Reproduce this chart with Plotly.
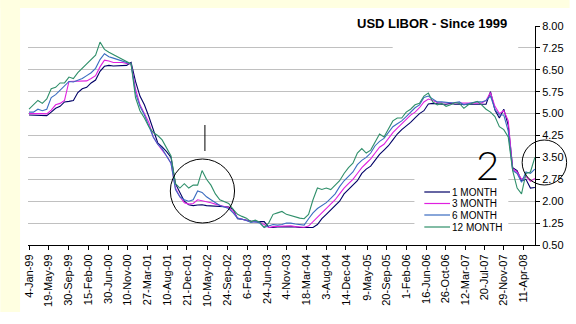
import pandas as pd
import plotly.graph_objects as go

# ---- data -------------------------------------------------------------
START, END = "1999-01-04", "2008-06-30"

SERIES_NAMES = ["1 MONTH", "3 MONTH", "6 MONTH", "12 MONTH"]

ONE_M = [
    4.95, 4.94, 4.95, 4.93, 4.93, 5.05, 5.18, 5.25, 5.40, 5.42, 5.45, 5.72,
    5.85, 5.90, 6.05, 6.15, 6.45, 6.62, 6.65, 6.63, 6.63, 6.63, 6.65, 6.75,
    6.10, 5.60, 5.30, 4.90, 4.45, 4.00, 3.86, 3.70, 3.50, 2.60, 2.30, 2.00,
    1.88, 1.85, 1.87, 1.88, 1.85, 1.84, 1.83, 1.82, 1.82, 1.80, 1.72, 1.40,
    1.38, 1.34, 1.32, 1.30, 1.31, 1.30, 1.11, 1.10, 1.12, 1.12, 1.12, 1.13,
    1.12, 1.10, 1.10, 1.10, 1.10, 1.20, 1.40, 1.55, 1.70, 1.85, 2.00, 2.25,
    2.40, 2.55, 2.70, 2.95, 3.10, 3.20, 3.40, 3.60, 3.75, 3.90, 4.10, 4.30,
    4.45, 4.57, 4.70, 4.85, 5.00, 5.10, 5.33, 5.35, 5.33, 5.32, 5.32, 5.35,
    5.32, 5.32, 5.32, 5.32, 5.32, 5.32, 5.32, 5.32, 5.75, 5.12, 4.85, 5.15,
    4.60, 3.15, 3.05, 2.70, 2.75, 2.45, 2.47,
]

THREE_M = [
    5.00, 4.99, 5.00, 5.00, 4.99, 5.12, 5.30, 5.35, 5.45, 6.10, 6.10, 6.10,
    6.10, 6.12, 6.20, 6.30, 6.60, 6.83, 6.80, 6.75, 6.75, 6.75, 6.72, 6.70,
    5.85, 5.30, 5.00, 4.70, 4.20, 3.95, 3.75, 3.55, 3.30, 2.45, 2.15, 1.95,
    1.90, 1.92, 2.05, 2.02, 1.98, 1.95, 1.90, 1.85, 1.82, 1.78, 1.65, 1.42,
    1.38, 1.34, 1.30, 1.30, 1.28, 1.20, 1.10, 1.13, 1.14, 1.16, 1.17, 1.16,
    1.13, 1.12, 1.11, 1.15, 1.30, 1.45, 1.60, 1.75, 1.90, 2.05, 2.25, 2.45,
    2.60, 2.75, 2.95, 3.15, 3.30, 3.45, 3.65, 3.85, 3.95, 4.15, 4.35, 4.50,
    4.65, 4.78, 4.95, 5.05, 5.20, 5.40, 5.50, 5.45, 5.38, 5.37, 5.37, 5.36,
    5.36, 5.36, 5.35, 5.35, 5.36, 5.36, 5.36, 5.45, 5.72, 5.25, 5.00, 5.10,
    4.75, 3.10, 3.00, 2.75, 2.85, 2.68, 2.78,
]

SIX_M = [
    5.05, 5.05, 5.15, 5.10, 5.15, 5.55, 5.65, 5.80, 5.95, 6.10, 6.08, 6.15,
    6.20, 6.30, 6.40, 6.55, 6.85, 7.05, 6.95, 6.90, 6.85, 6.80, 6.75, 6.70,
    5.70, 5.25, 4.95, 4.60, 4.20, 3.95, 3.80, 3.55, 3.30, 2.40, 2.15, 2.05,
    2.00, 2.05, 2.35, 2.30, 2.15, 2.05, 1.95, 1.85, 1.80, 1.75, 1.60, 1.42,
    1.38, 1.34, 1.27, 1.30, 1.25, 1.10, 1.15, 1.20, 1.18, 1.20, 1.25, 1.25,
    1.22, 1.20, 1.18, 1.40, 1.60, 1.75, 1.85, 1.95, 2.10, 2.25, 2.50, 2.70,
    2.85, 3.00, 3.25, 3.40, 3.50, 3.65, 3.90, 4.05, 4.15, 4.35, 4.55, 4.65,
    4.75, 4.90, 5.05, 5.20, 5.30, 5.55, 5.60, 5.50, 5.40, 5.40, 5.38, 5.37,
    5.38, 5.40, 5.30, 5.35, 5.38, 5.40, 5.40, 5.45, 5.60, 5.15, 4.95, 4.95,
    4.40, 3.05, 2.95, 2.65, 3.00, 2.95, 3.10,
]

TWELVE_M = [
    5.15, 5.30, 5.45, 5.35, 5.50, 5.85, 5.90, 6.05, 6.05, 6.25, 6.20, 6.40,
    6.55, 6.70, 6.85, 7.00, 7.45, 7.20, 7.10, 7.02, 6.95, 6.85, 6.78, 6.70,
    5.55, 5.10, 4.85, 4.55, 4.35, 4.25, 4.10, 3.80, 3.55, 2.60, 2.45, 2.60,
    2.45, 2.55, 2.55, 3.05, 2.75, 2.55, 2.25, 2.05, 1.98, 1.92, 1.72, 1.55,
    1.48, 1.42, 1.30, 1.35, 1.28, 1.10, 1.25, 1.55, 1.60, 1.65, 1.55, 1.50,
    1.45, 1.42, 1.40, 1.55, 2.05, 2.45, 2.40, 2.45, 2.40, 2.55, 2.70, 2.95,
    3.15, 3.30, 3.65, 3.80, 3.65, 3.75, 4.05, 4.30, 4.20, 4.50, 4.75, 4.85,
    4.85, 5.05, 5.15, 5.30, 5.35, 5.60, 5.70, 5.40, 5.30, 5.35, 5.25, 5.30,
    5.38, 5.35, 5.18, 5.30, 5.35, 5.42, 5.30, 5.15, 5.05, 4.90, 4.55, 4.45,
    4.20, 3.05, 2.45, 2.25, 2.95, 3.00, 3.50,
]

TICK_LABELS = [
    "4-Jan-99", "19-May-99", "30-Sep-99", "15-Feb-00", "30-Jun-00", "10-Nov-00",
    "27-Mar-01", "10-Aug-01", "21-Dec-01", "10-May-02", "24-Sep-02", "6-Feb-03",
    "24-Jun-03", "4-Nov-03", "18-Mar-04", "3-Aug-04", "14-Dec-04", "9-May-05",
    "20-Sep-05", "1-Feb-06", "16-Jun-06", "26-Oct-06", "12-Mar-07", "20-Jul-07",
    "29-Nov-07", "11-Apr-08",
]
Y_TICKS = [0.50, 1.25, 2.00, 2.75, 3.50, 4.25, 5.00, 5.75, 6.50, 7.25, 8.00]

COLORS = ["#000066", "#E020E0", "#3A6CC0", "#2F8F6A"]
TITLE = "USD LIBOR - Since 1999"

# ---- layout geometry (pixels) ------------------------------------------
FIG_W, FIG_H = 576, 324
PL, PR, PT, PB = 28, 541, 26, 245          # plot area edges
PW, PH = PR - PL, PB - PT


def fx(px):
    return (px - PL) / PW


def fy(py):
    return (PB - py) / PH


dates = pd.date_range(START, END, periods=len(ONE_M))
tick_dates = pd.to_datetime(TICK_LABELS, format="%d-%b-%y")

fig = go.Figure()
for name, vals, col in zip(SERIES_NAMES, [ONE_M, THREE_M, SIX_M, TWELVE_M], COLORS):
    fig.add_trace(go.Scatter(
        x=dates, y=vals, name=name, mode="lines",
        line=dict(color=col, width=1.1), showlegend=False,
    ))

FONT = "Arial, Liberation Sans, sans-serif"
shapes = []
annotations = []

# cream frame strips along top and left edges
YELLOW = "#FFFFE1"
shapes.append(dict(type="rect", xref="paper", yref="paper", layer="below",
                   x0=fx(0), x1=fx(FIG_W), y0=fy(0), y1=fy(8),
                   fillcolor=YELLOW, line=dict(width=0)))
shapes.append(dict(type="rect", xref="paper", yref="paper", layer="below",
                   x0=fx(0), x1=fx(20), y0=fy(0), y1=fy(312),
                   fillcolor=YELLOW, line=dict(width=0)))

# white boxes behind title and legend
for (x0, y0, x1, y1) in [(358, 13, 517, 38), (397, 42, 524, 55), (419, 176, 514, 234)]:
    shapes.append(dict(type="rect", xref="paper", yref="paper", layer="above",
                       x0=fx(x0), x1=fx(x1), y0=fy(y1), y1=fy(y0),
                       fillcolor="white", line=dict(width=0)))

annotations.append(dict(
    text="<b>" + TITLE + "</b>", xref="paper", yref="paper",
    x=fx(437), y=fy(24), xanchor="center", yanchor="middle", showarrow=False,
    font=dict(family=FONT, size=13, color="black"),
))

# legend drawn as line samples + labels
leg_y = [192, 203.5, 215, 227]
for name, col, ly in zip(SERIES_NAMES, COLORS, leg_y):
    shapes.append(dict(type="line", xref="paper", yref="paper", layer="above",
                       x0=fx(429), x1=fx(455), y0=fy(ly), y1=fy(ly),
                       line=dict(color=col, width=1.2)))
    annotations.append(dict(
        text=name, xref="paper", yref="paper", x=fx(455), y=fy(ly),
        xanchor="left", yanchor="middle", showarrow=False,
        font=dict(family=FONT, size=10, color="black"),
    ))

# hand-drawn markings
shapes.append(dict(type="circle", xref="paper", yref="paper", layer="above",
                   x0=fx(172), x1=fx(237), y0=fy(223), y1=fy(159),
                   line=dict(color="black", width=1)))
shapes.append(dict(type="line", xref="paper", yref="paper", layer="above",
                   x0=fx(207), x1=fx(207), y0=fy(151), y1=fy(125),
                   line=dict(color="black", width=1)))
shapes.append(dict(type="circle", xref="paper", yref="paper", layer="above",
                   x0=fx(528), x1=fx(573), y0=fy(185), y1=fy(140),
                   line=dict(color="black", width=1)))
annotations.append(dict(
    text="2", xref="paper", yref="paper", x=fx(493), y=fy(165),
    xanchor="center", yanchor="middle", showarrow=False,
    font=dict(family="Lato, Inter, Roboto, DejaVu Sans", size=40,
              color="black", weight=300),
))

fig.update_layout(
    width=FIG_W, height=FIG_H,
    margin=dict(l=PL, r=FIG_W - PR, t=PT, b=FIG_H - PB, pad=0),
    paper_bgcolor="white", plot_bgcolor="white",
    font=dict(family=FONT, size=11, color="black"),
    shapes=shapes, annotations=annotations,
    xaxis=dict(
        type="date", range=["1998-12-28", "2008-07-01"],
        tickmode="array", tickvals=tick_dates, ticktext=TICK_LABELS,
        tickangle=-90, ticks="outside", ticklen=4, tickcolor="black",
        showline=True, linecolor="black", linewidth=1,
        showgrid=False, zeroline=False,
        tickfont=dict(family=FONT, size=11, color="black"),
    ),
    yaxis=dict(
        side="right", range=[0.5, 8.0],
        tickmode="array", tickvals=Y_TICKS, tickformat=".2f",
        ticks="outside", ticklen=4, tickcolor="black",
        showline=True, linecolor="black", linewidth=1,
        showgrid=True, gridcolor="#C0C0C0", gridwidth=1, zeroline=False,
        tickfont=dict(family=FONT, size=11, color="black"),
    ),
)

fig.write_html("out.html")
